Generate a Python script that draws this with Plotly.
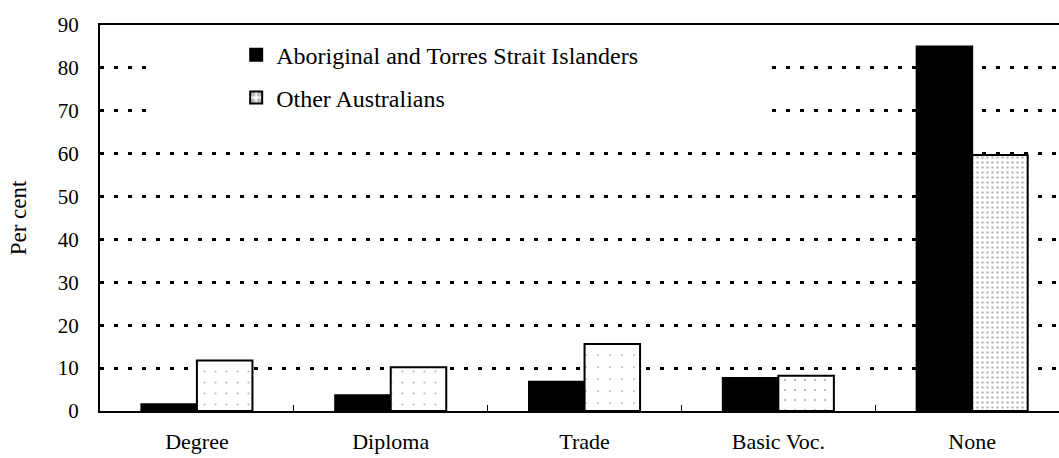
import plotly.graph_objects as go

categories = ["Degree", "Diploma", "Trade", "Basic Voc.", "None"]
aboriginal = [1.6, 3.7, 6.8, 7.7, 85.0]
other = [11.8, 10.2, 15.6, 8.2, 59.7]
y_ticks = [0, 10, 20, 30, 40, 50, 60, 70, 80, 90]

FONT = "Liberation Serif, Times New Roman, serif"

fig = go.Figure()
fig.add_trace(go.Bar(
    x=categories, y=aboriginal, name="Aboriginal and Torres Strait Islanders",
    marker=dict(color="black", line=dict(color="black", width=2)),
    legend="legend",
))
fig.add_trace(go.Bar(
    x=categories, y=other, name="Other Australians",
    marker=dict(color="white", line=dict(color="black", width=2),
                pattern=dict(shape=".", fgcolor="#777", bgcolor="white",
                             size=[11, 11, 12, 10, 5], solidity=[0.03, 0.03, 0.02, 0.05, 0.2])),
    legend="legend2",
))

fig.update_layout(
    width=1059, height=458,
    margin=dict(l=100, r=0, t=25, b=47, autoexpand=False),
    paper_bgcolor="white", plot_bgcolor="white",
    barmode="group", bargap=0.427, bargroupgap=0,
    font=dict(family=FONT, size=21, color="black"),
    showlegend=True,
    legend=dict(x=0.142, y=0.922, xanchor="left", yanchor="middle",
                bgcolor="rgba(0,0,0,0)", font=dict(size=24, family=FONT),
                itemwidth=30, borderwidth=0),
    legend2=dict(x=0.142, y=0.811, xanchor="left", yanchor="middle",
                 bgcolor="rgba(0,0,0,0)", font=dict(size=24, family=FONT),
                 itemwidth=30, borderwidth=0),
    shapes=[dict(type="rect", xref="paper", yref="paper",
                 x0=0.052, x1=0.696, y0=0.72, y1=0.97,
                 fillcolor="white", line=dict(width=0), layer="above")],
)

fig.update_xaxes(
    type="category", range=[-0.5, 4.448], automargin=False,
    showline=True, linecolor="black", linewidth=2, mirror=True,
    tickson="boundaries", ticks="inside", ticklen=6, tickcolor="black", tickwidth=1,
    showgrid=False, tickfont=dict(size=22, family=FONT),
    ticklabelstandoff=10,
)
fig.update_yaxes(
    range=[0, 90], tickvals=y_ticks, automargin=False,
    showline=True, linecolor="black", linewidth=2,
    showgrid=True, gridcolor="black", gridwidth=2.5, griddash="4px,10px",
    zeroline=False, ticks="", ticklabelstandoff=15,
    tickfont=dict(size=21, family=FONT),
    title=dict(text="Per cent", font=dict(size=23, family=FONT), standoff=25),
)

fig.write_html("out.html", config={"displayModeBar": False},
               post_script="document.body.style.margin='0';")
